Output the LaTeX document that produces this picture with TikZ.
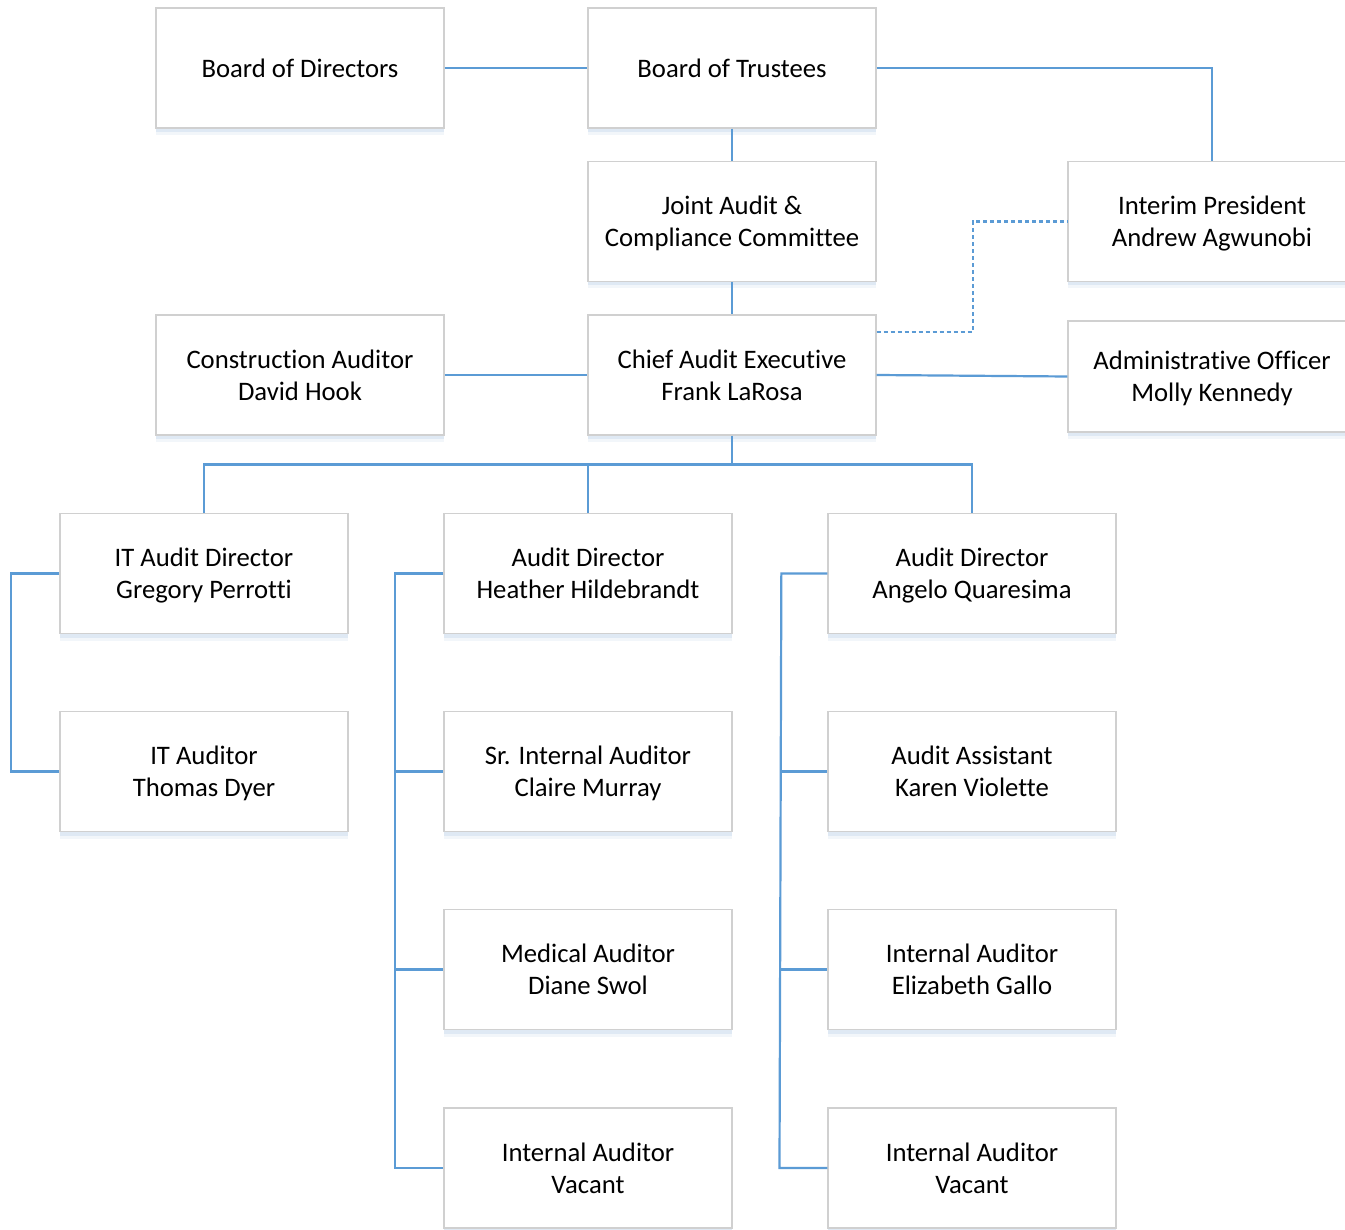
\documentclass[tikz,border=0pt]{standalone}
\usepackage{fontspec}
\setmainfont{Carlito}[Ligatures=NoCommon]
\usetikzlibrary{shadows}
\definecolor{lineblue}{HTML}{5B9BD5}
\definecolor{boxgray}{HTML}{D0D0D0}
\definecolor{shadowblue}{HTML}{A9C4E4}
\tikzset{
  orgbox/.style={draw=boxgray, line width=1.3pt, fill=white, minimum width=288pt, minimum height=120pt,
    align=center, inner sep=0pt, text depth=0pt, font=\fontsize{26.7}{32}\selectfont,
    drop shadow={opacity=0.15, shadow xshift=0pt, shadow yshift=-7pt, fill=shadowblue},
    drop shadow={opacity=0.25, shadow xshift=0pt, shadow yshift=-4pt, fill=shadowblue}},
  conn/.style={draw=lineblue, line width=2.2pt},
  dotconn/.style={draw=lineblue, line width=2.2pt, dash pattern=on 4pt off 3pt}
}
\begin{document}
\begin{tikzpicture}[x=1pt,y=-1pt]
\useasboundingbox (0,0) rectangle (1345,1230);
\clip (0,0) rectangle (1345,1230);
\fill[white] (0,0) rectangle (1345,1230);
% nodes
\node[orgbox] (bod) at (300,68) {Board of Directors};
\node[orgbox] (bot) at (732,68) {Board of Trustees};
\node[orgbox] (jac) at (732,221.5) {Joint Audit \&\\Compliance Committee};
\node[orgbox] (ip) at (1212,221.5) {Interim President\\Andrew Agwunobi};
\node[orgbox, minimum height=111pt] (ao) at (1212,376.5) {Administrative Officer\\Molly Kennedy};
\node[orgbox] (cad) at (300,375) {Construction Auditor\\David Hook};
\node[orgbox] (cae) at (732,375) {Chief Audit Executive\\Frank LaRosa};
\node[orgbox] (itd) at (204,573.5) {IT Audit Director\\Gregory Perrotti};
\node[orgbox] (ita) at (204,771.5) {IT Auditor\\Thomas Dyer};
\node[orgbox] (hh) at (588,573.5) {Audit Director\\Heather Hildebrandt};
\node[orgbox] (hh2) at (588,771.5) {Sr. Internal Auditor\\Claire Murray};
\node[orgbox] (hh3) at (588,969.5) {Medical Auditor\\Diane Swol};
\node[orgbox] (hh4) at (588,1168) {Internal Auditor\\Vacant};
\node[orgbox] (aq) at (972,573.5) {Audit Director\\Angelo Quaresima};
\node[orgbox] (aq2) at (972,771.5) {Audit Assistant\\Karen Violette};
\node[orgbox] (aq3) at (972,969.5) {Internal Auditor\\Elizabeth Gallo};
\node[orgbox] (aq4) at (972,1168) {Internal Auditor\\Vacant};
% connectors
\draw[conn] (bod.east) -- (bot.west);
\draw[conn] (bot.east) -| (ip.north);
\draw[conn] (bot.south) -- (jac.north);
\draw[conn] (jac.south) -- (cae.north);
\draw[dotconn] ([yshift=43pt]cae.east) -- ++(96,0) |- (ip.west);
\draw[conn] (cae.east) -- (ao.west);
\draw[conn] (cad.east) -- (cae.west);
\coordinate (bus) at (732,464.5);
\draw[conn] (cae.south) -- (bus);
\draw[conn] (itd.north) |- (bus);
\draw[conn] (aq.north) |- (bus);
\draw[conn] (hh.north) -- (hh.north |- bus);
\draw[conn] (itd.west) -- ++(-48,0) |- (ita.west);
\draw[conn] (hh.west) -- ++(-48,0) coordinate (hx) |- (hh4.west);
\draw[conn] (hx |- hh2.west) -- (hh2.west);
\draw[conn] (hx |- hh3.west) -- (hh3.west);
\coordinate (aqb) at (779.5,1168);
\draw[conn] (aq.west) -- ++(-46,0) -- (aqb) -- (aq4.west);
\draw[conn] (780.8,771.5) -- (aq2.west);
\draw[conn] (780.2,969.5) -- (aq3.west);
\end{tikzpicture}
\end{document}
